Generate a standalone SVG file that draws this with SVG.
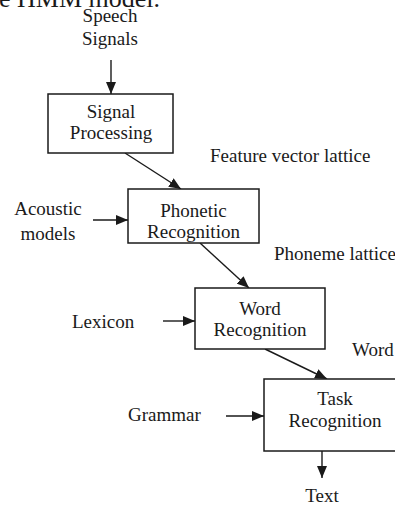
<svg xmlns="http://www.w3.org/2000/svg" width="395" height="508" viewBox="0 0 395 508">
  <style>
    text { font-family: "Liberation Serif", "Times New Roman", serif; font-size: 19px; fill: #1a1a1a; }
    .c { text-anchor: middle; }
    .box { fill: #ffffff; stroke: #1a1a1a; stroke-width: 1.5; }
    .edge { stroke: #1a1a1a; stroke-width: 1.4; fill: none; marker-end: url(#arrow); }
  </style>
  <defs>
    <marker id="arrow" markerUnits="userSpaceOnUse" markerWidth="12" markerHeight="10" viewBox="0 0 12 10" refX="12" refY="5" orient="auto">
      <path d="M0,0 L12,5 L0,10 Z" fill="#1a1a1a"/>
    </marker>
  </defs>
  <rect width="395" height="508" fill="#ffffff"/>

  <!-- running text of the page above the figure -->
  <text x="-1" y="7" style="font-size:26px">e HMM model.</text>

  <g id="connectors">
    <line class="edge" x1="111" y1="60" x2="111" y2="94"/>
    <line class="edge" x1="125" y1="153" x2="181" y2="189"/>
    <line class="edge" x1="93" y1="220" x2="128" y2="220"/>
    <line class="edge" x1="200" y1="243" x2="249" y2="288"/>
    <line class="edge" x1="163" y1="321" x2="195" y2="321"/>
    <line class="edge" x1="265" y1="349" x2="327" y2="379"/>
    <line class="edge" x1="226" y1="416" x2="264" y2="416"/>
    <line class="edge" x1="322" y1="451" x2="322" y2="478"/>
  </g>

  <g id="speech-signals">
    <text class="c" x="110" y="22">Speech</text>
    <text class="c" x="110" y="45">Signals</text>
  </g>

  <g id="signal-processing">
    <rect class="box" x="48" y="94" width="125" height="59"/>
    <text class="c" x="111" y="118">Signal</text>
    <text class="c" x="111" y="139">Processing</text>
  </g>

  <g id="feature-vector-lattice">
    <text x="210" y="162">Feature vector lattice</text>
  </g>

  <g id="acoustic-models">
    <text class="c" x="48" y="215">Acoustic</text>
    <text class="c" x="48" y="240">models</text>
  </g>

  <g id="phonetic-recognition">
    <rect class="box" x="128" y="189" width="131" height="54"/>
    <text class="c" x="193.5" y="217">Phonetic</text>
    <text class="c" x="193.5" y="238">Recognition</text>
  </g>

  <g id="phoneme-lattice">
    <text x="274" y="260">Phoneme lattice</text>
  </g>

  <g id="lexicon">
    <text x="72" y="328">Lexicon</text>
  </g>

  <g id="word-recognition">
    <rect class="box" x="195" y="288" width="130" height="61"/>
    <text class="c" x="260" y="315">Word</text>
    <text class="c" x="260" y="336">Recognition</text>
  </g>

  <g id="word-label">
    <text x="352" y="356">Word</text>
  </g>

  <g id="grammar">
    <text x="128" y="421">Grammar</text>
  </g>

  <g id="task-recognition">
    <rect class="box" x="264" y="379" width="145" height="72"/>
    <text class="c" x="335" y="405">Task</text>
    <text class="c" x="335" y="427">Recognition</text>
  </g>

  <g id="text-output">
    <text class="c" x="322" y="502">Text</text>
  </g>
</svg>
